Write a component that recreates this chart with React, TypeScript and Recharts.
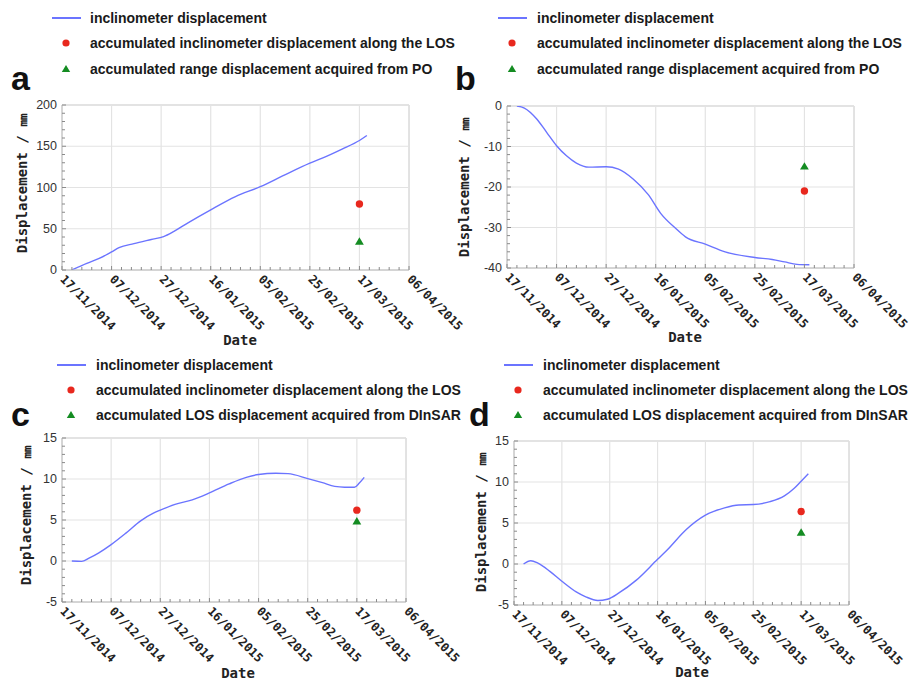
import React from "react";
import { ComposedChart, Line, Scatter, XAxis, YAxis, ReferenceArea, ReferenceLine, Legend } from "recharts";

// values (dates are dd/mm/yyyy on the axis)
const xTickDates = ["2014-11-17", "2014-12-07", "2014-12-27", "2015-01-16", "2015-02-05", "2015-02-25", "2015-03-17", "2015-04-06"];
const pointDate = "2015-03-17";

const datesA = ["2014-11-21", "2014-11-27", "2014-12-02", "2014-12-07", "2014-12-10", "2014-12-16", "2014-12-23", "2014-12-28", "2015-01-01", "2015-01-07", "2015-01-16", "2015-01-26", "2015-02-05", "2015-02-14", "2015-02-25", "2015-03-02", "2015-03-10", "2015-03-17", "2015-03-20"];
const valuesA = [0, 8, 14, 22, 27, 32, 37, 40.5, 46.5, 57.5, 73, 89, 101, 114, 129.5, 135.6, 146.6, 157, 163];
const losA = 80;
const poA = 34;

const datesB = ["2014-11-21", "2014-11-24", "2014-11-29", "2014-12-03", "2014-12-07", "2014-12-11", "2014-12-15", "2014-12-20", "2014-12-27", "2015-01-01", "2015-01-07", "2015-01-13", "2015-01-18", "2015-01-24", "2015-01-28", "2015-02-05", "2015-02-13", "2015-02-25", "2015-03-04", "2015-03-09", "2015-03-14", "2015-03-19"];
const valuesB = [0, -0.5, -3.2, -6.5, -9.8, -12.3, -14.1, -15.1, -15, -15.6, -18.1, -21.9, -26.5, -30.2, -32.3, -34.1, -36, -37.4, -37.9, -38.5, -39.1, -39.2];
const losB = -21;
const poB = -15;

const datesC = ["2014-11-21", "2014-11-25", "2014-11-28", "2014-12-02", "2014-12-07", "2014-12-13", "2014-12-19", "2014-12-24", "2014-12-27", "2015-01-02", "2015-01-09", "2015-01-16", "2015-01-24", "2015-01-31", "2015-02-05", "2015-02-12", "2015-02-17", "2015-02-25", "2015-03-03", "2015-03-08", "2015-03-12", "2015-03-16", "2015-03-18", "2015-03-20"];
const valuesC = [0, -0.05, 0.35, 1, 2, 3.4, 4.9, 5.8, 6.2, 6.9, 7.45, 8.3, 9.4, 10.2, 10.55, 10.7, 10.65, 10.05, 9.55, 9.1, 9.0, 9.0, 9.5, 10.2];
const losC = 6.2;
const insarC = 4.8;

const datesD = ["2014-11-21", "2014-11-24", "2014-11-27", "2014-12-02", "2014-12-07", "2014-12-13", "2014-12-17", "2014-12-22", "2014-12-26", "2014-12-31", "2015-01-07", "2015-01-16", "2015-01-20", "2015-01-28", "2015-02-05", "2015-02-13", "2015-02-19", "2015-02-25", "2015-03-04", "2015-03-10", "2015-03-14", "2015-03-17", "2015-03-20"];
const valuesD = [0, 0.4, 0.1, -0.9, -2.1, -3.4, -4.0, -4.45, -4.3, -3.5, -2.0, 0.57, 1.7, 4.2, 5.95, 6.85, 7.2, 7.25, 7.6, 8.3, 9.2, 10.1, 11.0];
const losD = 6.4;
const insarD = 3.8;

const yTicksA = [0, 50, 100, 150, 200];
const yTicksB = [-40, -30, -20, -10, 0];
const yTicksCD = [-5, 0, 5, 10, 15];

const lineLabel = "inclinometer displacement";
const losLabel = "accumulated inclinometer displacement along the LOS";
const poLabel = "accumulated range displacement acquired from PO";
const insarLabel = "accumulated LOS displacement acquired from DInSAR";

const BLUE = "#6b74ff";
const RED = "#e8281e";
const GREEN = "#148c22";
const GRID = "#e3e3e3";
const FRAME = "#c6c6c6";
const TICK = "#8a8a8a";
const MONO = "'DejaVu Sans Mono', monospace";
const SANS = "'Liberation Sans', Arial, sans-serif";

const DAY = 86400000;
const toTime = (s: string) => {
  const [y, m, d] = s.split("-").map(Number);
  return Date.UTC(y, m - 1, d);
};
const pad = (n: number) => String(n).padStart(2, "0");
const fmtDate = (t: number) => {
  const d = new Date(t);
  return `${pad(d.getUTCDate())}/${pad(d.getUTCMonth() + 1)}/${d.getUTCFullYear()}`;
};
const xTicks = xTickDates.map(toTime);
const xDomain: [number, number] = [xTicks[0], xTicks[xTicks.length - 1]];
// small inward ticks every 4 days, labels only on the major dates
const xMinor: number[] = [];
for (let t = xDomain[0]; t <= xDomain[1]; t += 4 * DAY) xMinor.push(t);

const minorTicks = (lo: number, hi: number, step: number) => {
  const out: number[] = [];
  for (let v = lo; v <= hi + 1e-9; v += step) out.push(Math.round(v * 100) / 100);
  return out;
};
const toSeries = (dates: string[], values: number[]) => dates.map((d, i) => ({ t: toTime(d), v: values[i] }));

function DateTick({ x, y, payload }: any) {
  const major = xTicks.includes(payload.value);
  return (
    <g>
      <line x1={x} x2={x} y1={y} y2={y - (major ? 4 : 3)} stroke={TICK} />
      {major && (
        <text transform={`translate(${x + 0.5},${y + 7}) rotate(45)`} dy="0.35em" fontFamily={MONO} fontWeight="bold" fontSize={12} fill="#222">
          {fmtDate(payload.value)}
        </text>
      )}
    </g>
  );
}

function makeValueTick(majors: number[]) {
  return function ValueTick({ x, y, payload }: any) {
    const major = majors.includes(payload.value);
    return (
      <g>
        <line x1={x + 5} x2={x + 5 + (major ? 4 : 3)} y1={y} y2={y} stroke={TICK} />
        {major && (
          <text x={x} y={y} textAnchor="end" dominantBaseline="central" fontFamily={SANS} fontSize={12.5} fill="#333">
            {payload.value}
          </text>
        )}
      </g>
    );
  };
}

const dotShape = (p: any) => <circle cx={p.cx} cy={p.cy} r={3.7} fill={RED} />;
const triShape = (p: any) => (
  <polygon points={`${p.cx},${p.cy - 4.6} ${p.cx + 4.4},${p.cy + 2.8} ${p.cx - 4.4},${p.cy + 2.8}`} fill={GREEN} />
);

function LegendRows({ lineX, textX, rows, thirdLabel }: any) {
  const labels = [lineLabel, losLabel, thirdLabel];
  const dotX = lineX + 14;
  return (
    <div style={{ position: "relative", width: "100%", height: "100%" }}>
      {labels.map((label, i) => (
        <div key={i} style={{ position: "absolute", left: 0, top: rows[i] - 9, height: 18, width: "100%" }}>
          <svg width={textX} height={18} style={{ position: "absolute", left: 0, top: 0 }}>
            {i === 0 && <line x1={lineX} x2={lineX + 29} y1={9} y2={9} stroke={BLUE} strokeWidth={2} />}
            {i === 1 && <circle cx={dotX} cy={9} r={3.6} fill={RED} />}
            {i === 2 && <polygon points={`${dotX},${5} ${dotX + 4.2},${12} ${dotX - 4.2},${12}`} fill={GREEN} />}
          </svg>
          <span
            style={{ position: "absolute", left: textX, top: 0, lineHeight: "18px", fontFamily: SANS, fontWeight: "bold", fontSize: 14, color: "#1a1a1a", whiteSpace: "nowrap" }}
          >
            {label}
          </span>
        </div>
      ))}
    </div>
  );
}

function Panel(props: any) {
  const { left, top, width, height, margin, yTicks, yStep, line, los, other, thirdLabel, letter, letterPos, legend, yLabel, xLabel } = props;
  const yDomain: [number, number] = [yTicks[0], yTicks[yTicks.length - 1]];
  const point = toTime(pointDate);
  const ValueTick = makeValueTick(yTicks);
  return (
    <div style={{ position: "absolute", left, top, width, height }}>
      <ComposedChart width={width} height={height} margin={margin}>
        {xTicks.map((t) => (
          <ReferenceLine key={`vx${t}`} x={t} stroke={GRID} strokeWidth={1.2} />
        ))}
        {yTicks.map((v) => (
          <ReferenceLine key={`hy${v}`} y={v} stroke={GRID} strokeWidth={1.2} />
        ))}
        <ReferenceArea x1={xDomain[0]} x2={xDomain[1]} y1={yDomain[0]} y2={yDomain[1]} fill="none" stroke={FRAME} ifOverflow="visible" />
        <XAxis
          dataKey="t"
          type="number"
          domain={xDomain}
          ticks={xMinor}
          interval={0}
          height={60}
          tickSize={0}
          tickMargin={0}
          tickLine={false}
          axisLine={{ stroke: FRAME }}
          tick={<DateTick />}
          allowDataOverflow
          label={() => (
            <text x={xLabel[0]} y={xLabel[1]} textAnchor="middle" dominantBaseline="central" fontFamily={MONO} fontWeight="bold" fontSize={14} fill="#222">
              Date
            </text>
          )}
        />
        <YAxis
          type="number"
          domain={yDomain}
          ticks={minorTicks(yDomain[0], yDomain[1], yStep)}
          interval={0}
          width={40}
          tickSize={0}
          tickMargin={5}
          tickLine={false}
          axisLine={{ stroke: FRAME }}
          tick={<ValueTick />}
          allowDataOverflow
          label={() => (
            <text
              transform={`translate(${yLabel[0]},${yLabel[1]}) rotate(-90)`}
              textAnchor="middle"
              dominantBaseline="central"
              fontFamily={MONO}
              fontWeight="bold"
              fontSize={14}
              fill="#222"
            >
              Displacement / ㎜
            </text>
          )}
        />
        <Line data={line} dataKey="v" name={lineLabel} type="monotone" stroke={BLUE} strokeWidth={1.4} dot={false} isAnimationActive={false} />
        <Scatter data={[{ t: point, v: los }]} dataKey="v" name={losLabel} shape={dotShape} isAnimationActive={false} />
        <Scatter data={[{ t: point, v: other }]} dataKey="v" name={thirdLabel} shape={triShape} isAnimationActive={false} />
        <Legend
          layout="vertical"
          align="center"
          verticalAlign="middle"
          wrapperStyle={{ position: "absolute", left: 0, top: 0, width: 460, height: 95 }}
          content={() => <LegendRows {...legend} thirdLabel={thirdLabel} />}
        />
      </ComposedChart>
      <div
        style={{ position: "absolute", left: letterPos[0], top: letterPos[1] - 29, fontFamily: SANS, fontWeight: "bold", fontSize: 34, lineHeight: "34px", color: "#111" }}
      >
        {letter}
      </div>
    </div>
  );
}

export default function App() {
  return (
    <div style={{ position: "absolute", left: 0, top: 0, width: 915, height: 682, background: "#fff", overflow: "hidden" }}>
      <Panel
        left={0}
        top={0}
        width={470}
        height={350}
        margin={{ top: 105, right: 61, left: 22, bottom: 20 }}
        yTicks={yTicksA}
        yStep={10}
        line={toSeries(datesA, valuesA)}
        los={losA}
        other={poA}
        thirdLabel={poLabel}
        letter="a"
        letterPos={[11, 90]}
        legend={{ lineX: 52, textX: 90, rows: [18, 43, 69] }}
        yLabel={[22, 183]}
        xLabel={[240, 340]}
      />
      <Panel
        left={455}
        top={0}
        width={460}
        height={350}
        margin={{ top: 106, right: 61, left: 12, bottom: 22 }}
        yTicks={yTicksB}
        yStep={2}
        line={toSeries(datesB, valuesB)}
        los={losB}
        other={poB}
        thirdLabel={poLabel}
        letter="b"
        letterPos={[0, 90]}
        legend={{ lineX: 43, textX: 82, rows: [18, 43, 69] }}
        yLabel={[9, 187]}
        xLabel={[230, 337]}
      />
      <Panel
        left={0}
        top={340}
        width={470}
        height={342}
        margin={{ top: 98, right: 64, left: 22, bottom: 20 }}
        yTicks={yTicksCD}
        yStep={1}
        line={toSeries(datesC, valuesC)}
        los={losC}
        other={insarC}
        thirdLabel={insarLabel}
        letter="c"
        letterPos={[11, 86]}
        legend={{ lineX: 57, textX: 96, rows: [25, 50, 75] }}
        yLabel={[26, 175]}
        xLabel={[238, 333]}
      />
      <Panel
        left={455}
        top={340}
        width={460}
        height={342}
        margin={{ top: 101, right: 66, left: 19, bottom: 17 }}
        yTicks={yTicksCD}
        yStep={1}
        line={toSeries(datesD, valuesD)}
        los={losD}
        other={insarD}
        thirdLabel={insarLabel}
        letter="d"
        letterPos={[14, 86]}
        legend={{ lineX: 49, textX: 88, rows: [25, 50, 75] }}
        yLabel={[26, 182]}
        xLabel={[237, 332]}
      />
    </div>
  );
}
